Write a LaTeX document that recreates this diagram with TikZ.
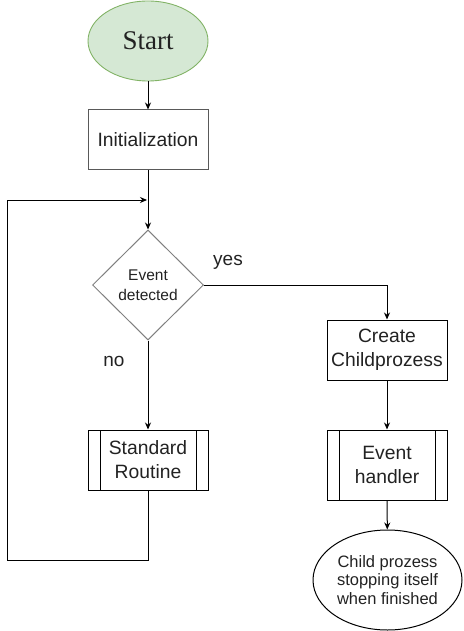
\documentclass[tikz,border=0pt]{standalone}
\usepackage{fontspec}
\setmainfont{Liberation Sans}
\newfontfamily\serifstart{Liberation Serif}
\usetikzlibrary{shapes.geometric,arrows.meta}
\definecolor{startfill}{HTML}{D5E8D4}
\definecolor{startdraw}{HTML}{82B366}
\definecolor{txt}{HTML}{222222}
\tikzset{
  every node/.style={text=txt, align=center},
  conn/.style={draw=black, line width=1pt, -{Stealth[length=7pt,width=6pt]}},
  procbox/.style={draw=black!75, line width=1pt, rectangle, minimum width=120pt, inner sep=0pt,
    font=\fontsize{19.3}{24}\selectfont},
  subproc/.style={procbox, draw=black,
    path picture={
      \draw[black, line width=1pt] ([xshift=12pt]path picture bounding box.north west) -- ([xshift=12pt]path picture bounding box.south west);
      \draw[black, line width=1pt] ([xshift=-12pt]path picture bounding box.north east) -- ([xshift=-12pt]path picture bounding box.south east);
    }},
  lbl/.style={font=\fontsize{19}{23}\selectfont}
}
\begin{document}
\begin{tikzpicture}[x=1pt,y=-1pt]
\useasboundingbox (0,0) rectangle (463,631);
\node[ellipse, fill=startfill, draw=startdraw, line width=0.9pt, minimum width=120pt, minimum height=80pt, inner sep=0pt,
  font=\serifstart\fontsize{27}{30}\selectfont] (start) at (148,41) {Start};
\node[procbox, draw=black!65, minimum height=60pt] (init) at (148,140) {Initialization};
\node[diamond, aspect=1, draw=black!50, line width=1pt, minimum width=111pt, minimum height=110pt, inner sep=0pt,
  font=\fontsize{15.5}{20}\selectfont] (dec) at (148,285) {Event\\detected};
\node[subproc, minimum height=60pt] (std) at (148,460) {Standard\\Routine};
\node[procbox, draw=black, minimum height=60pt] (create) at (387,350) {Create\\Childprozess};
\node[subproc, minimum height=70pt] (handler) at (387,465) {Event\\handler};
\node[ellipse, draw=black, line width=1pt, minimum width=149pt, minimum height=100pt, inner sep=0pt,
  font=\fontsize{16.5}{18.5}\selectfont] (child) at (387.5,580) {Child prozess\\stopping itself\\when finished};
\node[lbl] (yes) at (228,262) {yes};
\node[lbl] (no) at (114,361) {no};
\coordinate (lb) at (7,560);
\coordinate (lt) at (7,200);
\coordinate (lm) at (147,200);
\draw[conn] (start) -- (init);
\draw[conn] (init) -- (dec);
\draw[conn] (dec.east) -| (create.north);
\draw[conn] (dec.south) -- (std.north);
\draw[conn] (std.south) |- (lb) -- (lt) -- (lm);
\draw[conn] (create) -- (handler);
\draw[conn] (handler) -- (child);
\end{tikzpicture}
\end{document}
